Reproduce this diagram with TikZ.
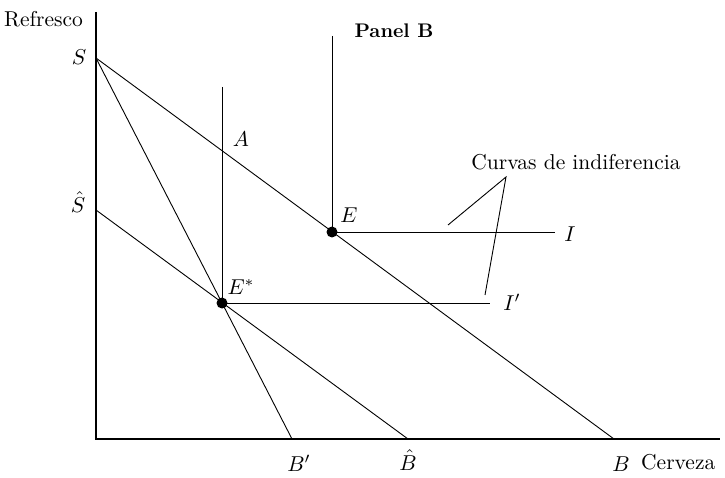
\documentclass[tikz,border=0pt]{standalone}
\newcommand{\lab}[1]{\scalebox{2.15}{#1}}
\tikzset{
  axisline/.style={line width=1.3pt},
  thinline/.style={line width=0.9pt},
  bigdot/.style={circle,fill=black,draw=none,inner sep=0pt,minimum size=11pt},
  lbl/.style={font=\normalsize, inner sep=0pt},
}
\begin{document}
\begin{tikzpicture}[x=1pt,y=-1pt]
\useasboundingbox (0,0) rectangle (725,478);
% key points
\coordinate (O) at (96,439);
\coordinate (Ytop) at (96,12);
\coordinate (Xend) at (720,439);
\coordinate (S) at (96,58);
\coordinate (Sh) at (96,210);
\coordinate (B) at (614,439);
\coordinate (Bh) at (408,439);
\coordinate (Bp) at (292,439);
\coordinate (EsTop) at (222,87);
\coordinate (ETop) at (332,36);
\coordinate (IEnd) at (555,232);
\coordinate (IpEnd) at (490,303);
\coordinate (Apex) at (506,177);
\coordinate (LeadI) at (448,225);
\coordinate (LeadIp) at (485,295);
% axes
\draw[axisline] (Ytop) -- (O) -- (Xend);
% budget lines
\draw[thinline] (S) -- (B);
\draw[thinline] (S) -- (Bp);
\draw[thinline] (Sh) -- (Bh);
% equilibrium points
\node[bigdot] (E) at (332,232) {};
\node[bigdot] (Es) at (222,303) {};
% indifference curves (L-shaped)
\draw[thinline] (ETop) -- (E.center) -- (IEnd);
\draw[thinline] (EsTop) -- (Es.center) -- (IpEnd);
% leaders
\draw[thinline] (LeadI) -- (Apex) -- (LeadIp);
% labels
\node[lbl, anchor=west] (ref) at (4,19) {\lab{Refresco}};
\node[lbl] (pan) at (394,31) {\scalebox{1.97}{\bfseries Panel B}};
\node[lbl] (lS) at (79,57) {\lab{$S$}};
\node[lbl] (lSh) at (78,202) {\lab{$\hat{S}$}};
\node[lbl] (lA) at (241,139) {\lab{$A$}};
\node[lbl] (lE) at (349,215) {\lab{$E$}};
\node[lbl] (lEs) at (241,287) {\lab{$E^{*}$}};
\node[lbl] (lI) at (570,234) {\lab{$I$}};
\node[lbl] (lIp) at (512,302) {\lab{$I'$}};
\node[lbl] (curv) at (576,162) {\lab{Curvas de indiferencia}};
\node[lbl] (lBp) at (299,463) {\lab{$B'$}};
\node[lbl] (lBh) at (408,460) {\lab{$\hat{B}$}};
\node[lbl] (lB) at (621,464) {\lab{$B$}};
\node[lbl, anchor=west] (cerv) at (641,462) {\lab{Cerveza}};
\end{tikzpicture}
\end{document}
